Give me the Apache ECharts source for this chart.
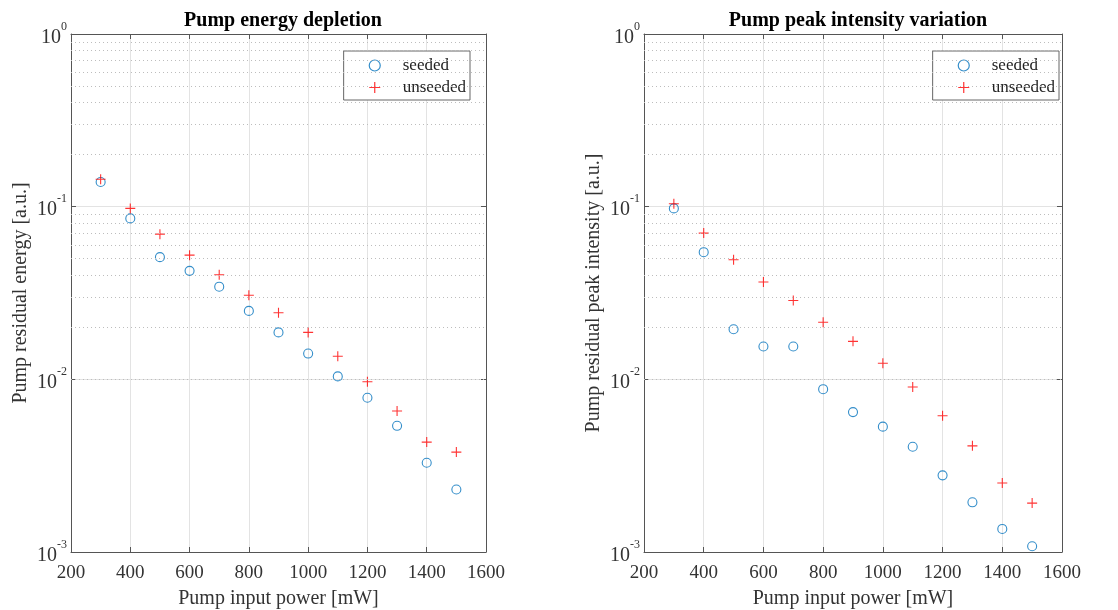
<!DOCTYPE html>
<head>
    <meta charset="utf-8">
    <title>Pump depletion</title>
    <script src="https://cdn.jsdelivr.net/npm/echarts@6/dist/echarts.min.js"></script>
</head>
<body style="margin:0;background:#fff">
    <div id="main" style="width:1118px;height:610px"></div>
    <script type="text/javascript">
        // pump input power [mW]
        var power = [300, 400, 500, 600, 700, 800, 900, 1000, 1100, 1200, 1300, 1400, 1500];
        // left panel: residual energy
        var energySeeded = [0.139, 0.0855, 0.051, 0.0425, 0.0344, 0.0249, 0.0187, 0.0141, 0.0104, 0.00782, 0.00538, 0.00329, 0.0023];
        var energyUnseeded = [0.144, 0.0977, 0.0693, 0.0524, 0.0403, 0.0307, 0.0243, 0.0187, 0.0136, 0.00969, 0.00655, 0.00433, 0.00379];
        // right panel: residual peak intensity
        var peakSeeded = [0.0977, 0.0545, 0.0195, 0.0155, 0.0155, 0.00877, 0.00646, 0.00532, 0.00407, 0.00278, 0.00194, 0.00136, 0.00108];
        var peakUnseeded = [0.104, 0.0703, 0.0493, 0.0366, 0.0286, 0.0214, 0.0166, 0.0124, 0.00902, 0.00615, 0.00412, 0.00251, 0.00192];
        // minor log grid values
        var minorTicks = [0.002, 0.003, 0.004, 0.005, 0.006, 0.007, 0.008, 0.009,
                          0.02, 0.03, 0.04, 0.05, 0.06, 0.07, 0.08, 0.09,
                          0.2, 0.3, 0.4, 0.5, 0.6, 0.7, 0.8, 0.9];

        var serif = 'Liberation Serif';
        var axisCol = '#555';
        var blue = '#0072BD';
        var red = '#FF0000';
        var plus = 'path://M0,5L10,5M5,0L5,10';

        function pairs(ys) {
            return power.map(function (x, i) { return [x, ys[i]]; });
        }

        function xAxes(g) {
            return [{
                type: 'value', gridIndex: g, min: 200, max: 1600, interval: 200,
                name: 'Pump input power [mW]', nameLocation: 'middle', nameGap: 37,
                nameTextStyle: { fontFamily: serif, fontSize: 20, color: '#333' },
                axisLine: { lineStyle: { color: axisCol } },
                axisTick: { inside: true, length: 5, lineStyle: { color: axisCol } },
                axisLabel: {
                    fontFamily: serif, fontSize: 19, color: '#333', margin: 12,
                    formatter: function (v) { return String(v); }
                },
                splitLine: { show: true, lineStyle: { color: '#e3e3e3' } }
            }, {
                type: 'value', gridIndex: g, min: 200, max: 1600, interval: 200, position: 'top',
                axisLine: { lineStyle: { color: axisCol } },
                axisTick: { inside: true, length: 5, lineStyle: { color: axisCol } },
                axisLabel: { show: false }, splitLine: { show: false }
            }];
        }

        function yAxes(g, name, gap) {
            return [{
                type: 'log', gridIndex: g, min: 0.001, max: 1, logBase: 10, splitNumber: 3,
                name: name, nameLocation: 'middle', nameGap: gap,
                nameTextStyle: { fontFamily: serif, fontSize: 20, color: '#333' },
                axisLine: { lineStyle: { color: axisCol } },
                axisTick: { inside: true, length: 5, lineStyle: { color: axisCol } },
                axisLabel: {
                    margin: 4,
                    formatter: function (v) {
                        return '{b|10}{s|' + Math.round(Math.log10(v)) + '}';
                    },
                    rich: {
                        b: { fontFamily: serif, fontSize: 20, color: '#333', padding: [7, 0, 0, 0] },
                        s: { fontFamily: serif, fontSize: 12, color: '#333', verticalAlign: 'top', padding: [0, 0, 4, 0] }
                    }
                },
                splitLine: { show: true, lineStyle: { color: '#e3e3e3' } }
            }, {
                type: 'log', gridIndex: g, min: 0.001, max: 1, logBase: 10, splitNumber: 3, position: 'right',
                axisLine: { lineStyle: { color: axisCol } },
                axisTick: { inside: true, length: 5, lineStyle: { color: axisCol } },
                axisLabel: { show: false }, splitLine: { show: false }
            }];
        }

        function seeded(g, ys, withGrid) {
            var s = {
                name: 'seeded', type: 'scatter', xAxisIndex: g * 2, yAxisIndex: g * 2,
                data: pairs(ys), symbol: 'circle', symbolSize: 9,
                itemStyle: { color: 'rgba(0,0,0,0)', borderColor: blue, borderWidth: 1.1 },
                z: 3
            };
            if (withGrid) {
                s.markLine = {
                    silent: true, symbol: 'none', label: { show: false }, animation: false,
                    lineStyle: { type: [1, 3], color: '#bdbdbd', width: 1 },
                    data: minorTicks.map(function (v) { return { yAxis: v }; })
                };
            }
            return s;
        }

        function unseeded(g, ys) {
            return {
                name: 'unseeded', type: 'scatter', xAxisIndex: g * 2, yAxisIndex: g * 2,
                data: pairs(ys), symbol: plus, symbolSize: 10,
                itemStyle: { color: 'rgba(0,0,0,0)', borderColor: red, borderWidth: 1.1 },
                z: 4
            };
        }

        function legend(g, right) {
            return {
                gridIndex: g, orient: 'vertical', right: right, top: 51,
                data: ['seeded', 'unseeded'],
                itemWidth: 40, itemHeight: 11, itemGap: 5,
                padding: [6, 4, 4, 25],
                borderColor: '#666', borderWidth: 1, backgroundColor: '#fff',
                itemStyle: { borderWidth: 1.2 },
                textStyle: { fontFamily: serif, fontSize: 17, color: '#222', padding: [0, 0, 0, 3] }
            };
        }

        var myChart = echarts.init(document.getElementById('main'));
        var option = {
            animation: false,
            backgroundColor: '#fff',
            title: [{
                text: 'Pump energy depletion', left: 278, top: 6, textAlign: 'center',
                textStyle: { fontFamily: serif, fontSize: 20, fontWeight: 'bold', color: '#000' }
            }, {
                text: 'Pump peak intensity variation', left: 853, top: 6, textAlign: 'center',
                textStyle: { fontFamily: serif, fontSize: 20, fontWeight: 'bold', color: '#000' }
            }],
            grid: [
                { left: 71, right: 632, top: 34, bottom: 58, outerBoundsMode: 'none', containLabel: false },
                { left: 644, right: 56, top: 34, bottom: 58, outerBoundsMode: 'none', containLabel: false }
            ],
            legend: [legend(0, 648), legend(1, 59)],
            xAxis: xAxes(0).concat(xAxes(1)),
            yAxis: yAxes(0, 'Pump residual energy [a.u.]', 40).concat(yAxes(1, 'Pump residual peak intensity [a.u.]', 40)),
            series: [
                seeded(0, energySeeded, true),
                unseeded(0, energyUnseeded),
                seeded(1, peakSeeded, true),
                unseeded(1, peakUnseeded)
            ]
        };
        myChart.setOption(option);
    </script>
</body>
